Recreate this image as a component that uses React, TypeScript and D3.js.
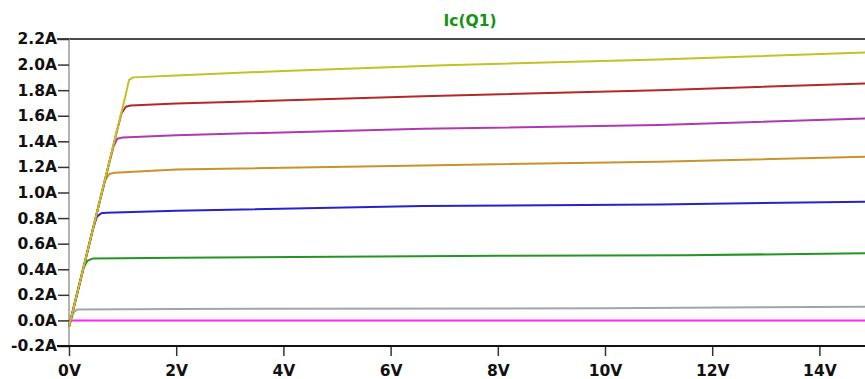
import { useEffect, useRef } from 'react';
import * as d3 from 'd3';

// Vce (V), Ic (A) pairs
const yellowCurve: [number, number][] = [[0, -0.05], [1.05, 1.75], [1.12, 1.88], [1.2, 1.9], [2, 1.915], [4, 1.95], [7, 1.995], [11, 2.04], [15, 2.097]];
const redCurve: [number, number][] = [[0, -0.05], [0.9, 1.49], [0.98, 1.62], [1.06, 1.67], [1.15, 1.68], [2, 1.695], [6.6, 1.753], [11, 1.8], [15, 1.854]];
const purpleCurve: [number, number][] = [[0, -0.05], [0.75, 1.23], [0.83, 1.36], [0.9, 1.42], [1.0, 1.43], [2, 1.448], [6.6, 1.498], [11, 1.527], [15, 1.58]];
const orangeCurve: [number, number][] = [[0, -0.05], [0.6, 0.98], [0.68, 1.1], [0.75, 1.145], [0.85, 1.155], [2, 1.18], [6.6, 1.212], [11, 1.24], [15, 1.28]];
const blueCurve: [number, number][] = [[0, -0.05], [0.45, 0.72], [0.52, 0.81], [0.6, 0.838], [0.7, 0.842], [2, 0.857], [6.6, 0.894], [11, 0.907], [15, 0.928]];
const greenCurve: [number, number][] = [[0, -0.05], [0.27, 0.41], [0.34, 0.465], [0.45, 0.485], [2, 0.49], [8, 0.505], [11.5, 0.51], [15, 0.525]];
const grayCurve: [number, number][] = [[0, -0.05], [0.08, 0.06], [0.15, 0.085], [2, 0.09], [10, 0.095], [15, 0.107]];
const magentaCurve: [number, number][] = [[0, 0], [15, 0]];

const xTicks = [0, 2, 4, 6, 8, 10, 12, 14];
const yTicks = [-0.2, 0, 0.2, 0.4, 0.6, 0.8, 1.0, 1.2, 1.4, 1.6, 1.8, 2.0, 2.2];

// drawn bottom first so the top curve sits over the shared rise
const SERIES = [
    { data: magentaCurve, color: '#ff22ff' },
    { data: grayCurve, color: '#a4a4a4' },
    { data: greenCurve, color: '#249424' },
    { data: blueCurve, color: '#2424c8' },
    { data: orangeCurve, color: '#c8922c' },
    { data: purpleCurve, color: '#b038b0' },
    { data: redCurve, color: '#b42828' },
    { data: yellowCurve, color: '#c2c228' },
];

export default function App() {
    const svgRef = useRef<SVGSVGElement>(null);
    const width = 865;
    const height = 379;

    useEffect(() => {
        if (!svgRef.current) return;
        const svg = d3.select(svgRef.current);
        svg.selectAll('*').remove();

        const x = d3.scaleLinear().domain([0, 15]).range([69, 873]);
        const y = d3.scaleLinear().domain([-0.2, 2.2]).range([346, 39]);
        const font = "'DejaVu Sans', sans-serif";

        // title
        svg.append('text')
            .attr('x', 470)
            .attr('y', 26)
            .attr('text-anchor', 'middle')
            .attr('fill', '#139213')
            .style('font-family', font)
            .style('font-weight', 'bold')
            .style('font-size', '15.5px')
            .text('Ic(Q1)');

        // frame: top border, left axis, bottom axis
        svg.append('line')
            .attr('x1', 57).attr('x2', width)
            .attr('y1', y(2.2)).attr('y2', y(2.2))
            .attr('stroke', '#4a4a4a').attr('stroke-width', 2);
        svg.append('line')
            .attr('x1', x(0)).attr('x2', x(0))
            .attr('y1', y(2.2)).attr('y2', y(-0.2))
            .attr('stroke', '#9a9a9a').attr('stroke-width', 1.5);

        const yAxis = svg.append('g')
            .attr('transform', `translate(${x(0)},0)`)
            .call(d3.axisLeft(y).tickValues(yTicks).tickSize(11).tickPadding(1)
                .tickFormat(d => `${(+d).toFixed(1)}A`));
        yAxis.select('.domain').remove();
        yAxis.selectAll('line').attr('stroke', '#333').attr('stroke-width', 1.5);
        yAxis.selectAll('text')
            .attr('fill', '#111')
            .style('font-family', font)
            .style('font-weight', 'bold')
            .style('font-size', '15.5px');

        const xAxis = svg.append('g')
            .attr('transform', `translate(0,${y(-0.2)})`)
            .call(d3.axisBottom(x).tickValues(xTicks).tickSize(10).tickPadding(9)
                .tickFormat(d => `${d}V`));
        xAxis.select('.domain').remove();
        xAxis.selectAll('line').attr('stroke', '#333').attr('stroke-width', 1.5);
        xAxis.selectAll('text')
            .attr('fill', '#111')
            .style('font-family', font)
            .style('font-weight', 'bold')
            .style('font-size', '15.5px');

        svg.append('line')
            .attr('x1', 57).attr('x2', width)
            .attr('y1', y(-0.2)).attr('y2', y(-0.2))
            .attr('stroke', '#111').attr('stroke-width', 2);

        // curves
        const line = d3.line<[number, number]>()
            .x(d => x(d[0]))
            .y(d => y(d[1]));

        SERIES.forEach(s => {
            svg.append('path')
                .datum(s.data)
                .attr('fill', 'none')
                .attr('stroke', s.color)
                .attr('stroke-width', 2)
                .attr('stroke-linejoin', 'round')
                .attr('d', line);
        });
    }, []);

    return (
        <svg
            ref={svgRef}
            width={width}
            height={height}
            style={{ position: 'absolute', left: 0, top: 0, background: '#fff' }}
        />
    );
}
